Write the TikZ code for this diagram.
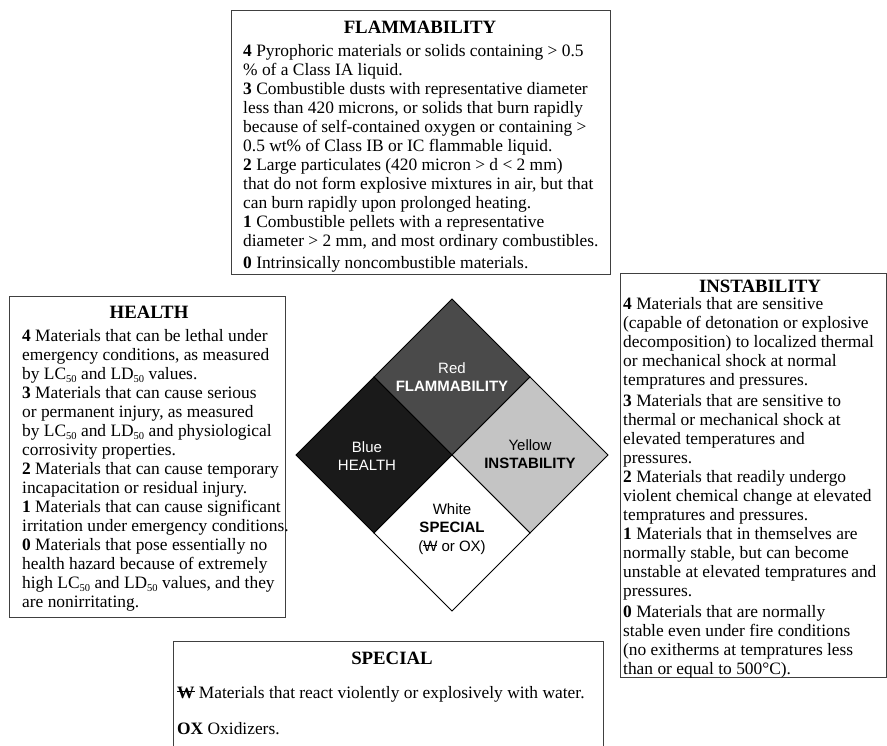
\documentclass[tikz,border=0pt]{standalone}
\usepackage{fontspec}
\setmainfont{Liberation Serif}
\newfontfamily\dsans{Liberation Sans}
\newsavebox\wbox
\newcommand\barW{\sbox\wbox{W}\rlap{\usebox\wbox}\rule[0.5\ht\wbox]{\wd\wbox}{0.07em}}
\newcommand\bodyfont{\fontsize{17.4}{19}\selectfont}
\newcommand\titlefont{\fontsize{18.8}{22}\selectfont\bfseries}
\newcommand\subfifty{\raisebox{-0.2em}{\fontsize{10.5}{10.5}\selectfont 50}}
\newcommand\LCf{LC\subfifty}
\newcommand\LDf{LD\subfifty}
\begin{document}
\begin{tikzpicture}[x=1pt,y=-1pt,
  panel/.style={draw=black!75, line width=1.3pt, anchor=north west, inner sep=0pt},
  ptitle/.style={font=\titlefont, anchor=base, inner sep=0pt},
  pbody/.style={font=\bodyfont, anchor=north west, inner sep=0pt, align=left},
  quad/.style={draw=black, line width=0.8pt, line join=miter},
  dlabel/.style={font={\dsans\fontsize{15}{18.5}\selectfont}, align=center, inner sep=0pt}]
\useasboundingbox[fill=white] (0,0) rectangle (887,746);

% ---------- FLAMMABILITY ----------
\node[panel, minimum width=379pt, minimum height=264pt] (flambox) at (231,10) {};
\node[ptitle] (flamtitle) at (420,34) {FLAMMABILITY};
\node[pbody] (flambody) at (243,44) {%
\textbf{4} Pyrophoric materials or solids containing > 0.5\\
\% of a Class IA liquid.\\
\textbf{3} Combustible dusts with representative diameter\\
less than 420 microns, or solids that burn rapidly\\
because of self-contained oxygen or containing >\\
0.5 wt\% of Class IB or IC flammable liquid.\\
\textbf{2} Large particulates (420 micron > d < 2 mm)\\
that do not form explosive mixtures in air, but that\\
can burn rapidly upon prolonged heating.\\
\textbf{1} Combustible pellets with a representative\\
diameter > 2 mm, and most ordinary combustibles.\\[3pt]
\textbf{0} Intrinsically noncombustible materials.};

% ---------- HEALTH ----------
\node[panel, minimum width=276pt, minimum height=321pt] (healthbox) at (9,296) {};
\node[ptitle] (healthtitle) at (149,319) {HEALTH};
\node[pbody] (healthbody) at (22,329) {%
\textbf{4} Materials that can be lethal under\\
emergency conditions, as measured\\
by \LCf{} and \LDf{} values.\\
\textbf{3} Materials that can cause serious\\
or permanent injury, as measured\\
by \LCf{} and \LDf{} and physiological\\
corrosivity properties.\\
\textbf{2} Materials that can cause temporary\\
incapacitation or residual injury.\\
\textbf{1} Materials that can cause significant\\
irritation under emergency conditions.\\
\textbf{0} Materials that pose essentially no\\
health hazard because of extremely\\
high \LCf{} and \LDf{} values, and they\\
are nonirritating.};

% ---------- INSTABILITY ----------
\node[panel, minimum width=266pt, minimum height=404pt] (instbox) at (620,273) {};
\node[ptitle] (insttitle) at (760,293) {INSTABILITY};
\node[pbody] (instbody) at (623,297) {%
\textbf{4} Materials that are sensitive\\
(capable of detonation or explosive\\
decomposition) to localized thermal\\
or mechanical shock at normal\\
tempratures and pressures.\\[2pt]
\textbf{3} Materials that are sensitive to\\
thermal or mechanical shock at\\
elevated temperatures and\\
pressures.\\
\textbf{2} Materials that readily undergo\\
violent chemical change at elevated\\
tempratures and pressures.\\
\textbf{1} Materials that in themselves are\\
normally stable, but can become\\
unstable at elevated tempratures and\\
pressures.\\[2pt]
\textbf{0} Materials that are normally\\
stable even under fire conditions\\
(no exitherms at tempratures less\\
than or equal to 500°C).};

% ---------- SPECIAL ----------
\begin{scope}
\clip (0,0) rectangle (887,746);
\node[panel, minimum width=430pt, minimum height=130pt] (specbox) at (173,641) {};
\end{scope}
\node[ptitle] (spectitle) at (392,664) {SPECIAL};
\node[font=\bodyfont, anchor=base west, inner sep=0pt] (specw) at (177,698)
  {{\bfseries\barW} Materials that react violently or explosively with water.};
\node[font=\bodyfont, anchor=base west, inner sep=0pt] (specox) at (177,734)
  {\textbf{OX} Oxidizers.};

% ---------- DIAMOND ----------
\coordinate (dT) at (452,299);
\coordinate (dR) at (608,455);
\coordinate (dB) at (452,611);
\coordinate (dL) at (296,455);
\coordinate (dC) at (452,455);
\coordinate (mTL) at (374,377);
\coordinate (mTR) at (530,377);
\coordinate (mBR) at (530,533);
\coordinate (mBL) at (374,533);
\filldraw[quad, fill={rgb,255:red,74;green,74;blue,74}] (dT) -- (mTR) -- (dC) -- (mTL) -- cycle;
\filldraw[quad, fill={rgb,255:red,26;green,26;blue,26}] (mTL) -- (dC) -- (mBL) -- (dL) -- cycle;
\filldraw[quad, fill={rgb,255:red,196;green,196;blue,196}] (mTR) -- (dR) -- (mBR) -- (dC) -- cycle;
\filldraw[quad, fill=white] (dC) -- (mBR) -- (dB) -- (mBL) -- cycle;

\node[dlabel, text=white] (lred) at (452,377) {Red\\{\bfseries FLAMMABILITY}};
\node[dlabel, text=white] (lblue) at (367,456) {Blue\\HEALTH};
\node[dlabel, text=black] (lyellow) at (530,454) {Yellow\\{\bfseries INSTABILITY}};
\node[dlabel, text=black] (lwhite) at (452,529) {White\\{\bfseries SPECIAL}\\(\barW{} or OX)};
\end{tikzpicture}
\end{document}
